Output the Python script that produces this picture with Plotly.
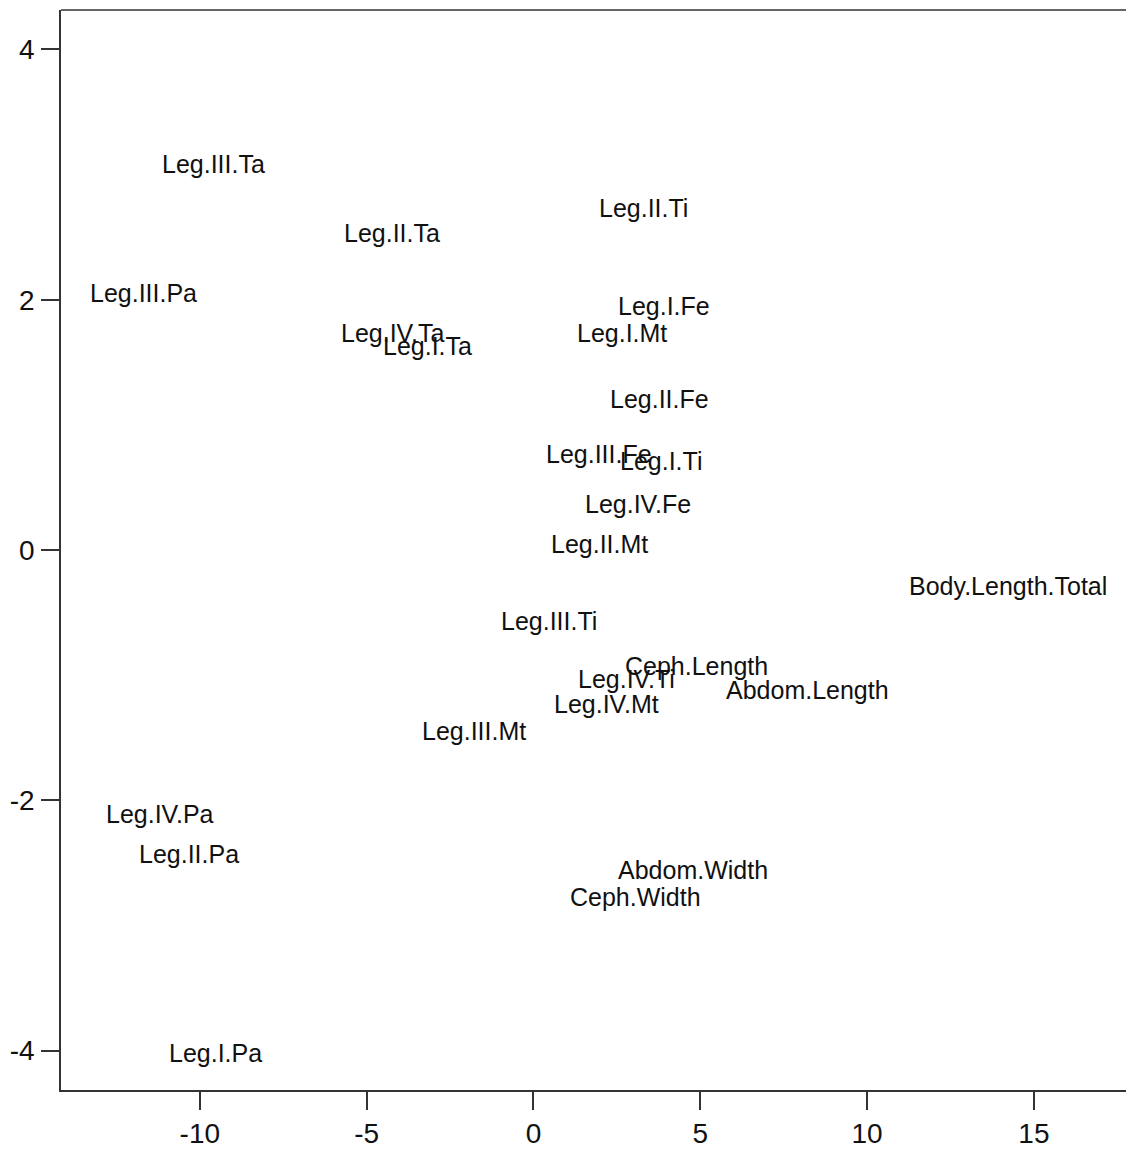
import plotly.graph_objects as go

labels = ["Leg.III.Ta", "Leg.II.Ta", "Leg.II.Ti", "Leg.III.Pa", "Leg.I.Fe", "Leg.I.Mt",
          "Leg.IV.Ta", "Leg.I.Ta", "Leg.II.Fe", "Leg.III.Fe", "Leg.I.Ti", "Leg.IV.Fe",
          "Leg.II.Mt", "Body.Length.Total", "Leg.III.Ti", "Ceph.Length", "Leg.IV.Ti",
          "Abdom.Length", "Leg.IV.Mt", "Leg.III.Mt", "Leg.IV.Pa", "Leg.II.Pa",
          "Abdom.Width", "Ceph.Width", "Leg.I.Pa"]
x_vals = [-9.60, -4.25, 3.29, -11.69, 3.92, 2.65,
          -4.23, -3.18, 3.78, 1.97, 3.81, 3.14,
          1.97, 14.21, 0.46, 4.89, 2.80,
          8.20, 2.18, -1.77, -11.18, -10.33,
          4.79, 3.07, -9.54]
y_vals = [3.085, 2.534, 2.734, 2.054, 1.95, 1.734,
          1.734, 1.63, 1.21, 0.77, 0.71, 0.37,
          0.05, -0.29, -0.57, -0.93, -1.03,
          -1.12, -1.23, -1.45, -2.11, -2.43,
          -2.56, -2.77, -4.02]

x_ticks = [-10, -5, 0, 5, 10, 15]
y_ticks = [-4, -2, 0, 2, 4]

FONT = "Liberation Sans, Arial, sans-serif"

fig = go.Figure()
# invisible trace to hold the axes and hover
fig.add_trace(go.Scatter(
    x=x_vals, y=y_vals, text=labels, mode="markers",
    marker=dict(size=1, opacity=0), hoverinfo="text", showlegend=False,
))
for lab, xv, yv in zip(labels, x_vals, y_vals):
    fig.add_annotation(x=xv, y=yv, xref="x", yref="y", text=lab, showarrow=False,
                       xanchor="center", yanchor="middle",
                       font=dict(family=FONT, size=25, color="#111111"))

axis_common = dict(
    showgrid=False, zeroline=False, showline=True, linecolor="#333333", linewidth=1.5,
    ticks="outside", ticklen=18, tickwidth=1.5, tickcolor="#333333", automargin=False,
    tickfont=dict(family=FONT, size=28, color="#111111"),
)
fig.update_xaxes(range=[-14.16, 18.0], tickvals=x_ticks, ticktext=[str(v) for v in x_ticks],
                 ticklabelstandoff=0, **axis_common)
fig.update_yaxes(range=[-4.315, 4.315], tickvals=y_ticks, ticktext=[str(v) for v in y_ticks],
                 ticklabelstandoff=1, **axis_common)

fig.add_shape(type="line", xref="paper", yref="paper", x0=0, x1=1, y0=1, y1=1,
              line=dict(color="#333333", width=1.5))

fig.update_layout(
    width=1126, height=1141,
    margin=dict(l=53, r=0, t=2, b=59),
    paper_bgcolor="white", plot_bgcolor="white",
)

fig.write_html("out.html")
